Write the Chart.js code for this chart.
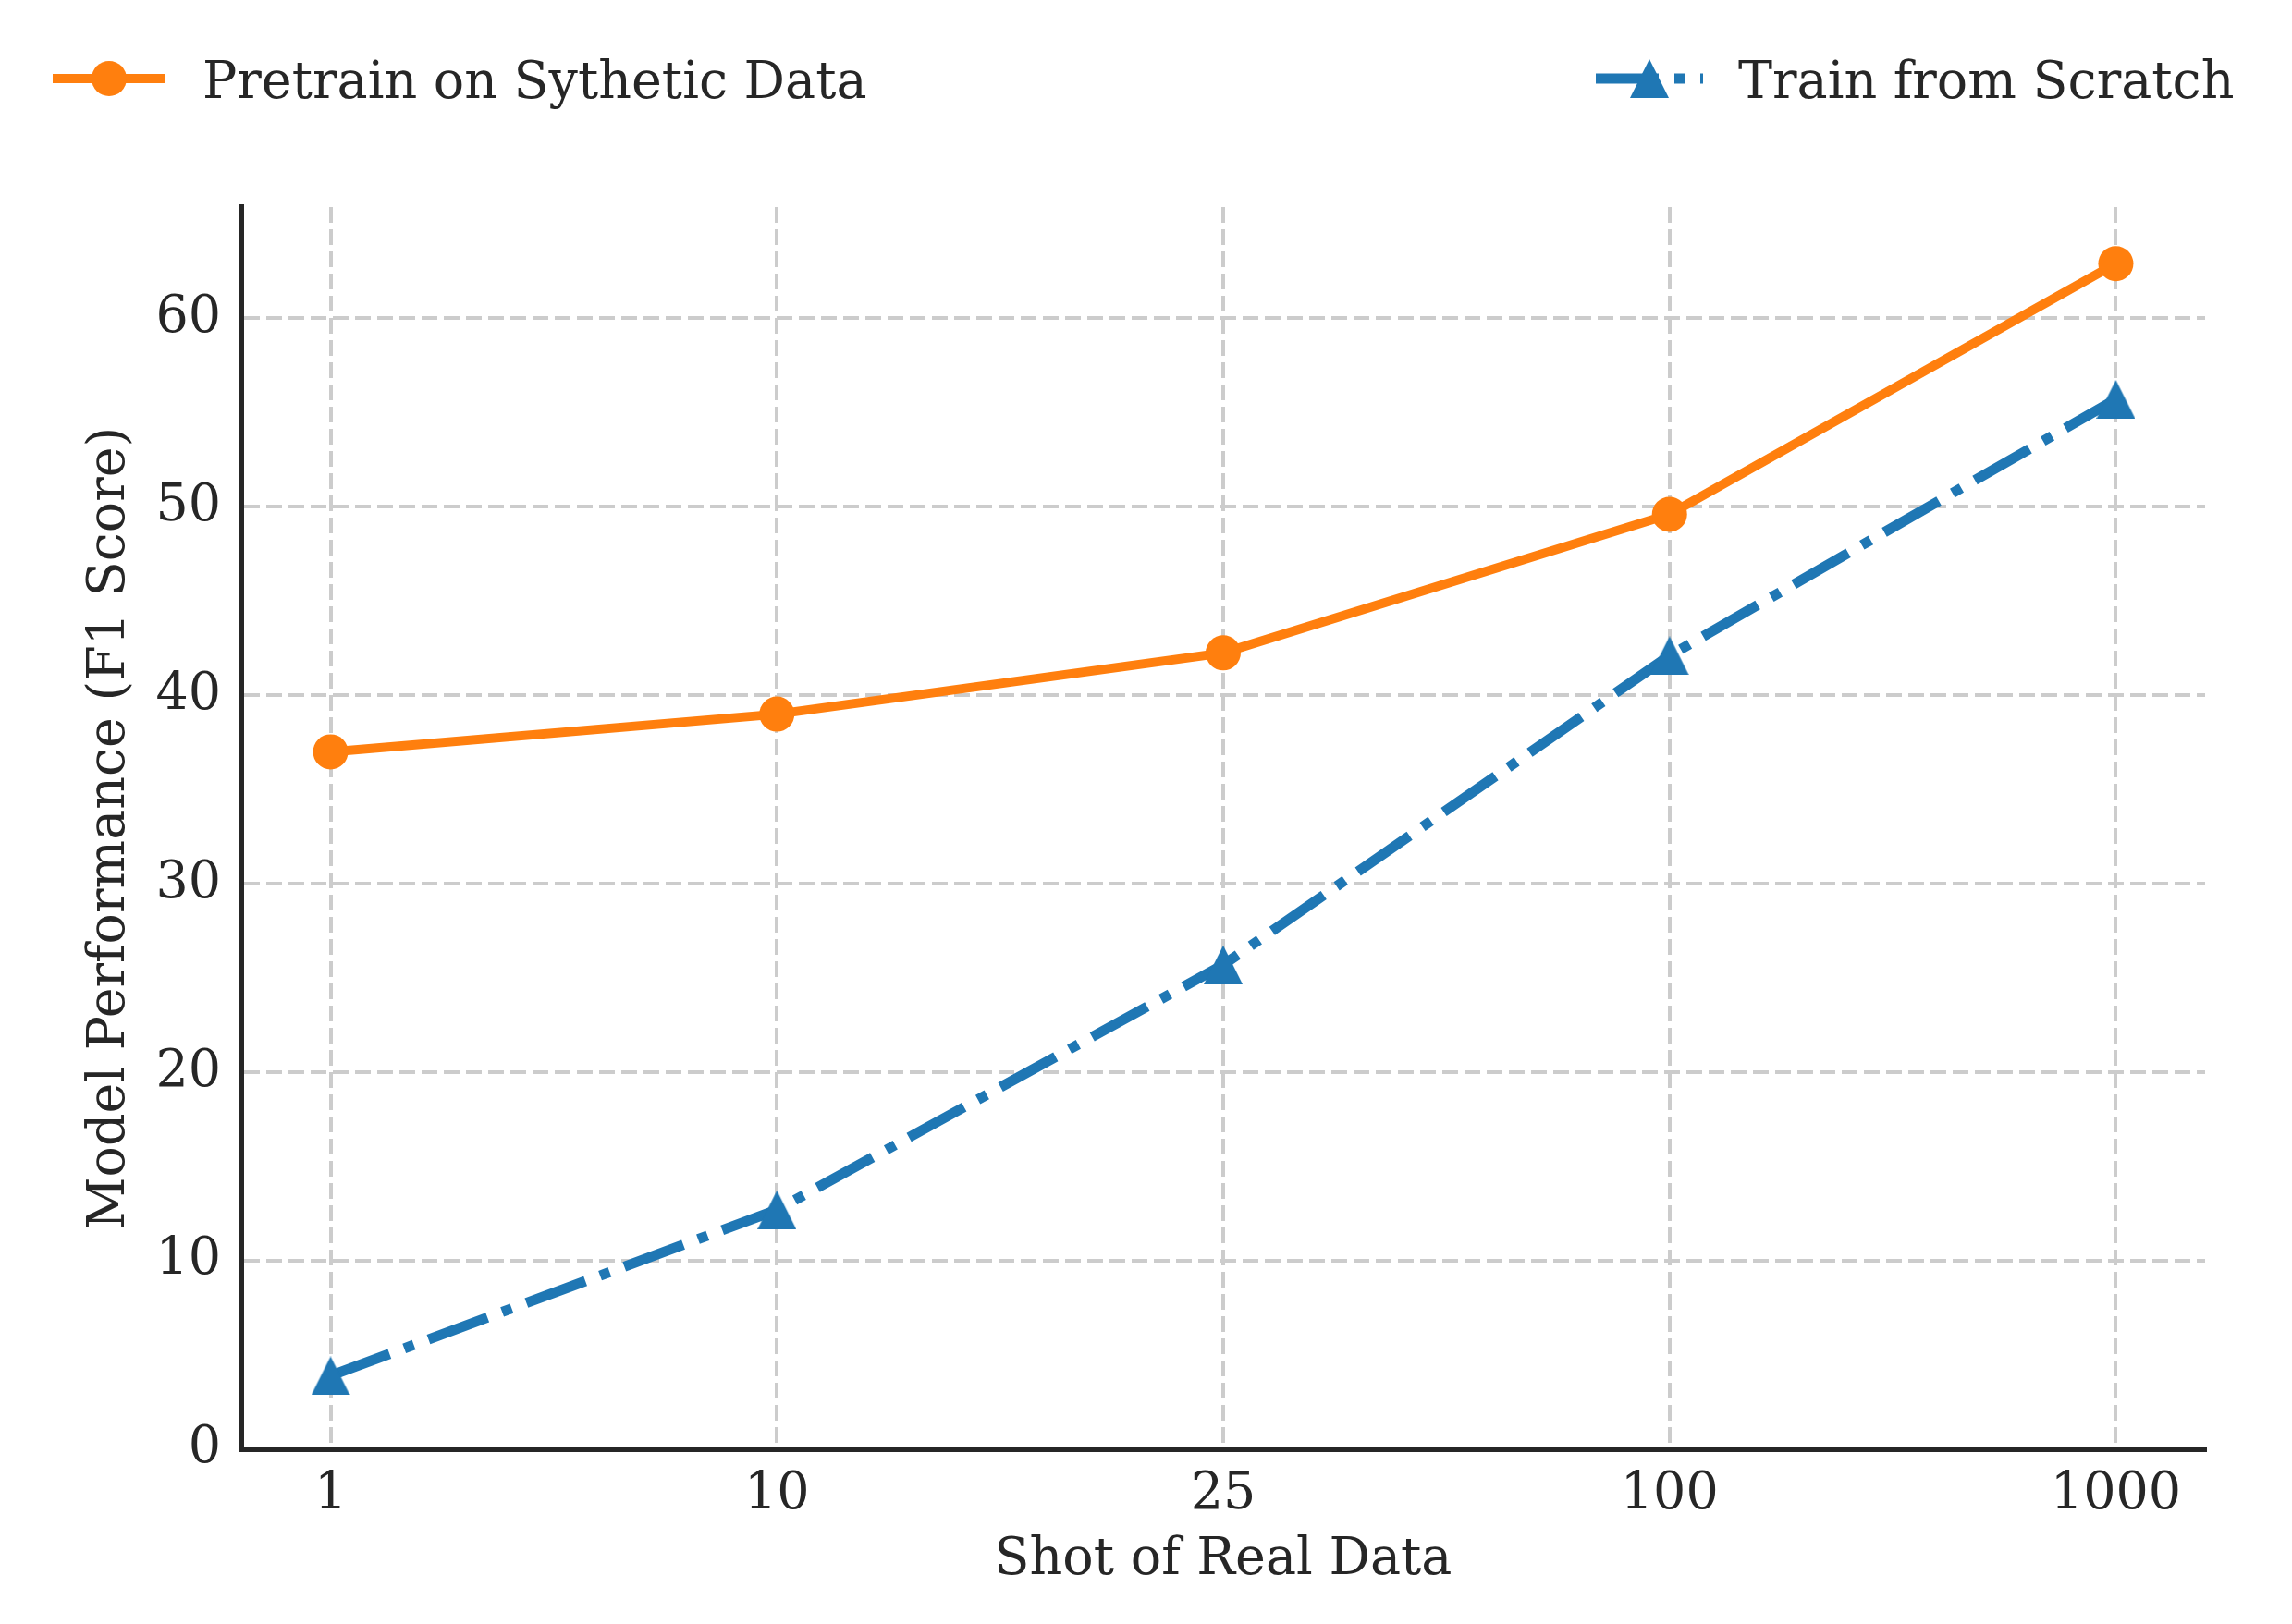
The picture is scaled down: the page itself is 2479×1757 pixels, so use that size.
<!DOCTYPE html>
<html>
<head>
<meta charset="utf-8">
<script src="https://cdn.jsdelivr.net/npm/chart.js@4.4.1/dist/chart.umd.min.js"></script>
<style>
  html, body { margin: 0; padding: 0; background: #fff; }
  #chartCanvas { display: block; }
</style>
</head>
<body>
<canvas id="chartCanvas" width="2479" height="1757"></canvas>
<script>
// data
const shots = ["1", "10", "25", "100", "1000"];
const pretrainF1 = [37.0, 39.0, 42.25, 49.6, 62.9];
const scratchF1 = [3.9, 12.7, 25.7, 42.1, 55.7];
const seriesNames = ["Pretrain on Sythetic Data", "Train from Scratch"];
const yTicksStep = 10;

const ORANGE = "#ff7f0e";
const BLUE = "#1f77b4";
const INK = "#262626";
const FONT = "DejaVu Serif";
const FSIZE = 55.5;

// matplotlib style "^" marker: isoceles triangle, bbox centred on the point
const makeTriangle = (size, color) => {
  const c = document.createElement("canvas");
  c.width = size;
  c.height = size;
  const g = c.getContext("2d");
  g.fillStyle = color;
  g.beginPath();
  g.moveTo(size / 2, 0);
  g.lineTo(size, size);
  g.lineTo(0, size);
  g.closePath();
  g.fill();
  return c;
};
const triangle = makeTriangle(42, BLUE);

// legend drawn by hand so the handle shows line style + marker like matplotlib
const legendPlugin = {
  id: "mplLegend",
  afterDraw(chart) {
    const ctx = chart.ctx;
    const ds = chart.data.datasets;
    const items = [
      { x0: 57, x1: 179, tx: 219, d: ds[0] },
      { x0: 1726, x1: 1842, tx: 1880, d: ds[1] },
    ];
    const y = 85;
    ctx.save();
    items.forEach((it) => {
      ctx.strokeStyle = it.d.borderColor;
      ctx.lineWidth = it.d.borderWidth;
      ctx.setLineDash(it.d.borderDash || []);
      ctx.lineCap = "butt";
      ctx.beginPath();
      ctx.moveTo(it.x0, y);
      ctx.lineTo(it.x1, y);
      ctx.stroke();
      ctx.setLineDash([]);
      const mx = (it.x0 + it.x1) / 2;
      if (it.d.pointStyle === "circle") {
        ctx.fillStyle = it.d.pointBackgroundColor;
        ctx.beginPath();
        ctx.arc(mx, y, it.d.pointRadius, 0, Math.PI * 2);
        ctx.fill();
      } else {
        ctx.drawImage(it.d.pointStyle, mx - 21, y - 21);
      }
      ctx.fillStyle = INK;
      ctx.font = `${FSIZE}px "${FONT}"`;
      ctx.textBaseline = "alphabetic";
      ctx.textAlign = "left";
      ctx.fillText(it.d.label, it.tx, y + 21);
    });
    ctx.restore();
  },
};

const ctx = document.getElementById("chartCanvas").getContext("2d");

new Chart(ctx, {
  type: "line",
  data: {
    datasets: [
      {
        label: seriesNames[0],
        data: pretrainF1.map((v, i) => ({ x: i, y: v })),
        borderColor: ORANGE,
        borderWidth: 10,
        pointStyle: "circle",
        pointRadius: 19,
        pointBorderWidth: 0,
        pointBackgroundColor: ORANGE,
        pointBorderColor: ORANGE,
        tension: 0,
        order: 2,
      },
      {
        label: seriesNames[1],
        data: scratchF1.map((v, i) => ({ x: i, y: v })),
        borderColor: BLUE,
        borderWidth: 11,
        borderDash: [68, 17, 11, 17],
        pointStyle: triangle,
        pointRadius: 21,
        pointBorderWidth: 0,
        pointBackgroundColor: BLUE,
        pointBorderColor: BLUE,
        tension: 0,
        order: 1,
      },
    ],
  },
  options: {
    responsive: false,
    devicePixelRatio: 1,
    animation: false,
    events: [],
    layout: { padding: { top: 224, right: 94, left: 0, bottom: 0 } },
    plugins: {
      legend: { display: false },
      tooltip: { enabled: false },
    },
    scales: {
      x: {
        type: "linear",
        min: -0.2,
        max: 4.2,
        afterFit: (scale) => { scale.height = 189; },
        ticks: {
          stepSize: 1,
          includeBounds: false,
          autoSkip: false,
          maxRotation: 0,
          padding: 16,
          color: INK,
          font: { family: FONT, size: FSIZE },
          callback: (v) => shots[v] ?? "",
        },
        grid: { color: "#cccccc", lineWidth: 4, drawTicks: false },
        border: { display: true, color: INK, width: 6, dash: [17, 7] },
        title: {
          display: true,
          text: "Shot of Real Data",
          color: INK,
          font: { family: FONT, size: FSIZE },
          padding: { top: 0, bottom: 35 },
        },
      },
      y: {
        min: 0,
        max: 65.9,
        afterFit: (scale) => { scale.width = 261; },
        ticks: {
          stepSize: yTicksStep,
          includeBounds: false,
          padding: 22,
          color: INK,
          font: { family: FONT, size: FSIZE },
        },
        grid: { color: "#cccccc", lineWidth: 4, drawTicks: false },
        border: { display: true, color: INK, width: 6, dash: [17, 7] },
        title: {
          display: true,
          text: "Model Performance (F1 Score)",
          color: INK,
          font: { family: FONT, size: FSIZE },
          padding: { top: 86, bottom: 0 },
        },
      },
    },
  },
  plugins: [legendPlugin],
});
</script>
</body>
</html>
